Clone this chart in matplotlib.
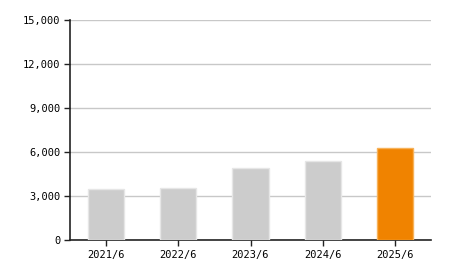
import matplotlib
matplotlib.use("Agg")
import matplotlib.pyplot as plt
from matplotlib.ticker import FuncFormatter

# values
periods = ["2021/6", "2022/6", "2023/6", "2024/6", "2025/6"]
values = [3500, 3560, 4880, 5380, 6270]
colors = ["#cccccc", "#cccccc", "#cccccc", "#cccccc", "#f08300"]
edges = ["#e6e6e6", "#e6e6e6", "#e6e6e6", "#e6e6e6", "#f6b25a"]

plt.rcParams["font.family"] = ["DejaVu Sans Mono"]

fig = plt.figure(figsize=(4.5, 2.7), dpi=100)
ax = fig.add_axes([70 / 450, 30 / 270, 361 / 450, 220 / 270])

x = range(len(periods))
ax.bar(x, values, width=0.5, color=colors, edgecolor=edges, linewidth=1, zorder=3)

ax.set_xlim(-0.5, len(periods) - 0.5)
ax.set_ylim(0, 15000)
ax.set_yticks(range(0, 15001, 3000))
ax.yaxis.set_major_formatter(FuncFormatter(lambda v, p: f"{int(v):,}"))
ax.set_xticks(list(x))
ax.set_xticklabels(periods)

ax.grid(axis="y", color="#c8c8c8", linewidth=1, zorder=0)
for s in ["top", "right"]:
    ax.spines[s].set_visible(False)
for s in ["left", "bottom"]:
    ax.spines[s].set_color("#222222")
    ax.spines[s].set_linewidth(1.2)
ax.tick_params(axis="both", length=4, width=1, color="#222222", labelsize=7.5, pad=3)

fig.savefig("out.png", dpi=100)
